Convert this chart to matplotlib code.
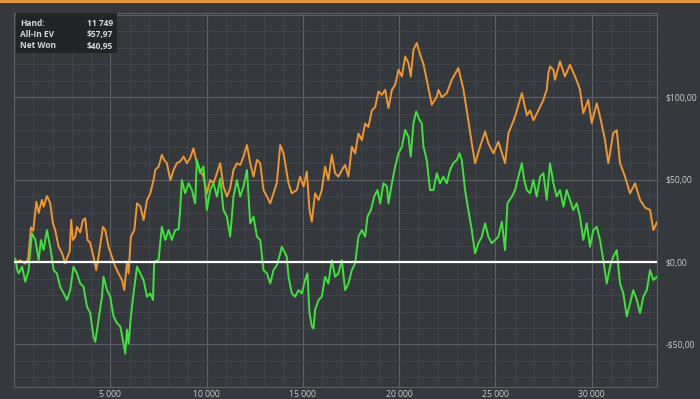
import matplotlib
matplotlib.use("Agg")
import matplotlib.pyplot as plt
from matplotlib.patches import Rectangle
from matplotlib.ticker import MultipleLocator, FuncFormatter

# ---- data (hand number, $) ----
ev_hands = [70, 330, 590, 740, 880, 1000, 1160, 1280, 1450, 1540, 1710, 1880, 2020, 2140, 2320, 2490, 2660, 2780, 2890, 2970,
            3060, 3180, 3270, 3440, 3580, 3700, 3820, 3960, 4130, 4270, 4390, 4520, 4620, 4740, 4910, 5090, 5260, 5430, 5610, 5730,
            5870, 5950, 6070, 6250, 6390, 6560, 6730, 6910, 7080, 7250, 7340, 7510, 7680, 7800, 7940, 8120, 8290, 8460, 8630, 8810,
            8980, 9150, 9320, 9500, 9670, 9840, 10020, 10190, 10360, 10540, 10710, 10880, 11060, 11230, 11400, 11580, 11750, 11920, 12100, 12270,
            12440, 12620, 12790, 12960, 13140, 13310, 13480, 13650, 13830, 14000, 14260, 14430, 14690, 14860, 15040, 15210, 15350, 15470, 15640, 15820,
            15990, 16160, 16330, 16510, 16680, 16850, 17030, 17200, 17370, 17550, 17720, 17890, 18070, 18240, 18410, 18590, 18760, 18930, 19110, 19280,
            19450, 19630, 19800, 19970, 20150, 20320, 20490, 20610, 20750, 20920, 21100, 21270, 21440, 21700, 21960, 22050, 22220, 22480, 22740, 23080,
            23340, 23600, 23780, 23950, 24210, 24470, 24640, 24900, 25160, 25510, 25680, 26030, 26380, 26640, 26810, 26980, 27240, 27500, 27670, 27760,
            27840, 28020, 28100, 28360, 28620, 28880, 29140, 29300, 29400, 29570, 29830, 30010, 30270, 30440, 30700, 30870, 31130, 31310, 31480, 31740,
            32000, 32260, 32520, 32780, 33040, 33210, 33390]
ev_values = [0, 1, -1, 2, 21, 19, 36.6, 29.8, 37.7, 33.6, 40.1, 35.8, 23.7, 19.4, 9.3, 5.5, -0.8, 3.2, 6.5, 25.5,
             13.4, 15.4, 21.4, 18, 25.5, 26.5, 13.4, 11.5, 3.2, -4.9, 3.2, 13.4, 21.4, 19.4, 9.3, 3.2, -2.8, -6.9, -10.9, -17,
             0.2, -6.9, 15.4, 19.4, 35.6, 34, 25.5, 37.7, 41.7, 49.8, 55.9, 57.9, 65, 62, 60, 49.8, 55.9, 60, 61, 64,
             60, 63, 69, 60, 55.9, 51.8, 41.7, 49.8, 47.8, 53.9, 60, 45.8, 39.7, 44.8, 55.9, 60, 58.9, 64, 71, 60,
             51.8, 62, 60, 43.7, 39.7, 35.6, 41.7, 47.8, 71, 66, 47.8, 41.7, 43.7, 51.8, 45.8, 54.9, 31.6, 24.5, 41.7, 37.7,
             43.7, 57.9, 49.8, 65, 53.9, 51.8, 55.9, 58.9, 51.8, 70, 66, 78, 74, 84, 82, 92, 94, 103.5, 101.5, 104.5,
             93.4, 104.5, 107.5, 116.6, 112.6, 124.7, 120.7, 112.6, 128.8, 132.9, 125.8, 120, 110.6, 95.4, 100.4, 104.5, 100, 102.5, 110.6, 117.7,
             105, 86, 72, 60, 70, 79.2, 72.1, 66, 73, 60, 78, 88.3, 102.5, 89, 92, 86, 92, 98.4, 104.5, 114.6,
             118.7, 116.6, 110.6, 121.7, 112.6, 119.7, 112.6, 108, 104.5, 90.3, 98.4, 84.3, 96.4, 88.3, 74, 60, 78.2, 80, 60, 51.8,
             41.7, 47.8, 37.7, 33, 31.6, 19.4, 24]

won_hands = [70, 170, 240, 420, 590, 760, 930, 1110, 1280, 1400, 1540, 1710, 1880, 2060, 2230, 2400, 2580, 2750, 2920, 3090,
             3270, 3440, 3610, 3790, 3960, 4130, 4220, 4390, 4570, 4650, 4830, 5000, 5170, 5350, 5520, 5690, 5780, 5870, 5950, 6070,
             6210, 6390, 6560, 6730, 6910, 7080, 7220, 7280, 7510, 7680, 7860, 8030, 8200, 8370, 8550, 8630, 8720, 8890, 9070, 9240,
             9410, 9500, 9670, 9840, 10020, 10190, 10360, 10540, 10710, 10880, 11060, 11230, 11400, 11580, 11750, 11920, 12100, 12270, 12440, 12620,
             12790, 12960, 13140, 13310, 13480, 13650, 13830, 13910, 14000, 14170, 14260, 14430, 14600, 14780, 14950, 15120, 15240, 15350, 15470, 15560,
             15640, 15820, 15990, 16160, 16330, 16510, 16680, 16850, 17030, 17200, 17370, 17550, 17720, 17890, 18070, 18240, 18360, 18540, 18710, 18880,
             19020, 19190, 19370, 19450, 19630, 19800, 19970, 20150, 20320, 20490, 20610, 20750, 20890, 21060, 21180, 21270, 21440, 21610, 21790, 21960,
             22130, 22300, 22480, 22650, 22820, 23000, 23140, 23260, 23430, 23600, 23780, 23950, 24120, 24300, 24470, 24640, 24820, 24990, 25160, 25340,
             25510, 25630, 25860, 26030, 26200, 26380, 26500, 26640, 26810, 26980, 27150, 27330, 27500, 27670, 27840, 28020, 28190, 28360, 28540, 28710,
             28880, 29050, 29230, 29400, 29570, 29750, 29920, 30090, 30270, 30440, 30610, 30790, 30960, 31130, 31310, 31480, 31650, 31830, 32000, 32170,
             32350, 32520, 32690, 32870, 33040, 33210, 33390]
won_values = [2, -5, -6.9, -2.8, -12, -4.9, 17.4, 13.4, 1.2, 13.4, 7.3, 19.4, 9.3, -4.9, -6.9, -15, -19, -23, -17, -2.8,
              -6.9, -13, -15, -27, -31, -45.4, -48.4, -35, -21, -8.9, -17, -21, -33, -37, -39, -49.4, -55.5, -41, -49.4, -33,
              -19, -2.8, -6.9, -11, -21, -19, -23, 0.2, 1.4, 21.4, 13.4, 19.4, 13.4, 19.4, 20, 31.6, 49.8, 41.7, 47.8, 43.7,
              35.6, 62, 53.9, 58, 31.6, 43.7, 47.8, 39.7, 50.8, 31.6, 27.5, 15.4, 39.7, 49.8, 39.7, 45.8, 55.9, 23.5, 27.5, 15.4,
              13.4, -4.9, -6.9, -13, -4.9, -2, 5.3, 9.3, 7.3, 3.3, -8.9, -19, -21, -17, -19, -10.9, -6.9, -31, -39, -40.3,
              -29, -23, -21, -8.9, -13, 1.2, -8.9, -6.9, 1.2, -17, -13, -4.9, -0.8, 15.4, 19.4, 15.4, 27.5, 31.6, 39.7, 43.7,
              35.6, 47.8, 46, 35.6, 47.8, 57.9, 66, 70, 80.2, 76, 64, 84.3, 91.3, 86.3, 84.3, 70, 62, 43.7, 43.7, 53.9,
              47.8, 51.8, 47.8, 55.9, 60, 62, 66, 62, 43.7, 31.6, 19.4, 5.3, 11.4, 15.4, 23.5, 15.4, 11.4, 13.4, 15.4, 24.5,
              7.3, 35.6, 39.7, 43.7, 51.8, 60, 49.8, 43.7, 41.7, 49.8, 39.7, 51.8, 53.9, 37.7, 60, 47.8, 39.7, 43.7, 33.6, 43.7,
              37.7, 31.6, 35.6, 27.5, 13.4, 23.5, 9.3, 19.4, 21.4, 13.4, 1.2, -13, -2.8, 3.2, 7.3, -13, -19, -33, -25, -17,
              -23, -31, -21, -17, -4.9, -10.9, -9]

y_tick_values = [-50, 0, 50, 100]
info_labels = ["Hand:", "All-In EV", "Net Won"]
info_values = ["11 749", "$57,97", "$40,95"]

BG = "#35383d"
ORANGE = "#f0962f"
GREEN = "#3ee23a"

plt.rcParams['font.family'] = ['Open Sans', 'DejaVu Sans']

fig = plt.figure(figsize=(7.0, 3.99), dpi=100, facecolor=BG)
ax = fig.add_axes([14/700, 12/399, 643/700, 374/399])
ax.set_facecolor(BG)

ax.set_xlim(0, 33400)
ax.set_ylim(-75.8, 151.1)

ax.xaxis.set_major_locator(MultipleLocator(5000))
ax.xaxis.set_minor_locator(MultipleLocator(1000))
ax.yaxis.set_major_locator(MultipleLocator(50))
ax.yaxis.set_minor_locator(MultipleLocator(10))
ax.grid(True, which='major', color='#5c5f65', linewidth=0.8)
ax.grid(True, which='minor', color='#43464b', linewidth=0.6)
ax.set_axisbelow(True)

for s in ax.spines.values():
    s.set_color('#5c5f65')
    s.set_linewidth(0.8)

ax.yaxis.tick_right()
ax.tick_params(which='both', length=0, colors='#c9cacc', labelsize=6.2)
ax.tick_params(axis='y', pad=6)
ax.tick_params(axis='x', pad=2)

def xfmt(v, pos):
    if v <= 0:
        return ""
    return f"{int(v):,}".replace(",", " ")

def yfmt(v, pos):
    if round(v) not in y_tick_values:
        return ""
    s = f"${abs(v):.2f}".replace(".", ",")
    return ("-" + s) if v < 0 else s

ax.xaxis.set_major_formatter(FuncFormatter(xfmt))
ax.yaxis.set_major_formatter(FuncFormatter(yfmt))

ax.plot(ev_hands, ev_values, color=ORANGE, linewidth=1.4, zorder=3)
ax.plot(won_hands, won_values, color=GREEN, linewidth=1.4, zorder=4)
ax.axhline(0, color='white', linewidth=1.6, zorder=5)

# info box
box = Rectangle((16/700, 1 - 53/399), 101/700, 40/399, transform=fig.transFigure,
                facecolor='#232427', edgecolor='none', zorder=10)
fig.add_artist(box)
for i, (lab, val) in enumerate(zip(info_labels, info_values)):
    yy = 1 - (23 + i * 11.5) / 399
    fig.text(20/700, yy, lab, color='#d6d6d6', fontsize=6, fontweight='bold',
             va='center', ha='left', zorder=11)
    fig.text(113/700, yy, val, color='#d6d6d6', fontsize=6, fontweight='bold',
             va='center', ha='right', zorder=11)

# orange top border
fig.add_artist(Rectangle((0, 1 - 2.5/399), 1, 2.5/399, transform=fig.transFigure,
                         facecolor='#e0963a', edgecolor='none', zorder=12))

fig.savefig("out.png", dpi=100, facecolor=BG)
